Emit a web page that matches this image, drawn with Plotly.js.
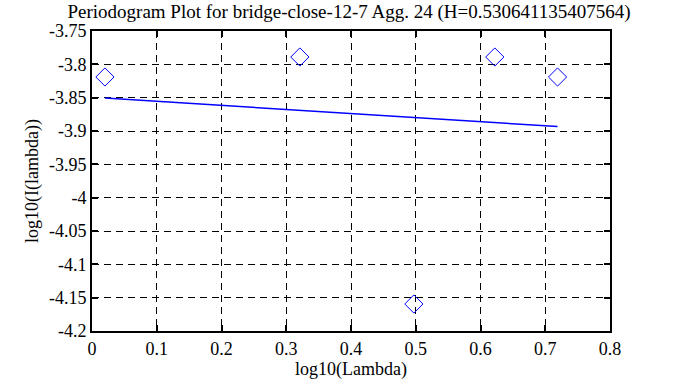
<!DOCTYPE html>
<html><head><meta charset="utf-8">
<script src="https://cdn.plot.ly/plotly-3.0.1.min.js"></script>
<style>html,body{margin:0;padding:0;background:#fff}#plot{width:698px;height:387px}</style>
</head><body><div id="plot"></div>
<script>
const pointsX = [0.0200, 0.3210, 0.4971, 0.6221, 0.7190];
const pointsY = [-3.819, -3.789, -4.1595, -3.789, -3.819];
const fitX = [0.0200, 0.7190];
const fitY = [-3.8505, -3.8933];
const titleText = 'Periodogram Plot for bridge-close-12-7 Agg. 24 (H=0.530641135407564)';
const xTicks = [0, 0.1, 0.2, 0.3, 0.4, 0.5, 0.6, 0.7, 0.8];
const yTicks = [-3.75, -3.8, -3.85, -3.9, -3.95, -4, -4.05, -4.1, -4.15, -4.2];

const fam = 'Liberation Serif';
function axisCommon() {
  return {
    showline: true, mirror: 'ticks', linecolor: '#000', linewidth: 2,
    ticks: 'inside', ticklen: 6, tickwidth: 2, tickcolor: '#000',
    showgrid: true, gridcolor: '#000', gridwidth: 1, griddash: '7px,5px',
    zeroline: false, tickfont: {size: 18}
  };
}
Plotly.newPlot('plot', [
  {x: pointsX, y: pointsY, mode: 'markers', type: 'scatter',
   marker: {symbol: 'diamond-open', size: 14, color: '#0000ff', line: {width: 1, color: '#0000ff'}}},
  {x: fitX, y: fitY, mode: 'lines', type: 'scatter', line: {color: '#0000ff', width: 1.5}}
], {
  width: 698, height: 387, showlegend: false,
  paper_bgcolor: '#fff', plot_bgcolor: '#fff', font: {family: fam, size: 18, color: '#000'},
  margin: {l: 92, r: 88, t: 31, b: 56},
  title: {text: titleText, font: {size: 19}, x: 0.5, xanchor: 'center', y: 0.971, yanchor: 'middle'},
  xaxis: Object.assign(axisCommon(), {range: [0, 0.8], tickvals: xTicks, ticktext: xTicks.map(String),
    title: {text: 'log10(Lambda)', font: {size: 18}, standoff: 2}}),
  yaxis: Object.assign(axisCommon(), {range: [-4.2, -3.75], tickvals: yTicks, ticktext: yTicks.map(String),
    title: {text: 'log10(I(lambda))', font: {size: 18}, standoff: 6}})
}, {displayModeBar: false});
</script></body></html>
